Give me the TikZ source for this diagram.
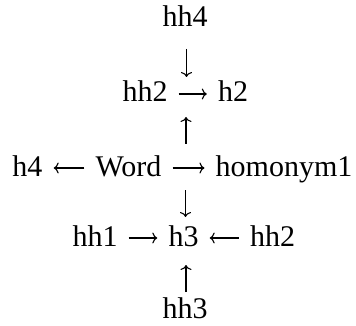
\documentclass[tikz,border=0pt]{standalone}
\usepackage{fontspec}
\setmainfont{Liberation Serif}
\usetikzlibrary{arrows.meta}
\begin{document}
\begin{tikzpicture}[x=1pt,y=-1pt,
  word/.style={inner sep=0pt, anchor=base, font=\fontsize{30}{36}\selectfont},
  arr/.style={line width=1.1pt, -{Computer Modern Rightarrow[length=5pt,width=11pt]}},
  harr/.style={arr, shorten <=11pt, shorten >=11pt}]
\useasboundingbox (0,0) rectangle (356,326);

% words, placed on their baselines
\node[word] (hh4)      at (185,27)    {hh4};
\node[word] (hh2a)     at (145,102)   {hh2};
\node[word] (h2)       at (233,102)   {h2};
\node[word] (h4)       at (27.5,176)  {h4};
\node[word] (word)     at (128.5,176) {Word};
\node[word] (homonym1) at (284,176)   {homonym1};
\node[word] (hh1)      at (95,246)    {hh1};
\node[word] (h3)       at (183.5,246) {h3};
\node[word] (hh2b)     at (272.5,246) {hh2};
\node[word] (hh3)      at (185,318)   {hh3};

% horizontal arrows, on the math axis of each row
\draw[harr] ([yshift=8pt]hh2a.base east) -- ([yshift=8pt]h2.base west);
\draw[harr] ([yshift=8pt]word.base west) -- ([yshift=8pt]h4.base east);
\draw[harr] ([yshift=8pt]word.base east) -- ([yshift=8pt]homonym1.base west);
\draw[harr] ([yshift=8pt]hh1.base east) -- ([yshift=8pt]h3.base west);
\draw[harr] ([yshift=8pt]hh2b.base west) -- ([yshift=8pt]h3.base east);

% vertical arrows between the rows
\coordinate (v1s) at (186.5,49);  \coordinate (v1e) at (186.5,77);
\coordinate (v2s) at (186,144);   \coordinate (v2e) at (186,117);
\coordinate (v3s) at (185.5,190); \coordinate (v3e) at (185.5,217);
\coordinate (v4s) at (186,292);   \coordinate (v4e) at (186,265);
\draw[arr] (v1s) -- (v1e);
\draw[arr] (v2s) -- (v2e);
\draw[arr] (v3s) -- (v3e);
\draw[arr] (v4s) -- (v4e);
\end{tikzpicture}
\end{document}
